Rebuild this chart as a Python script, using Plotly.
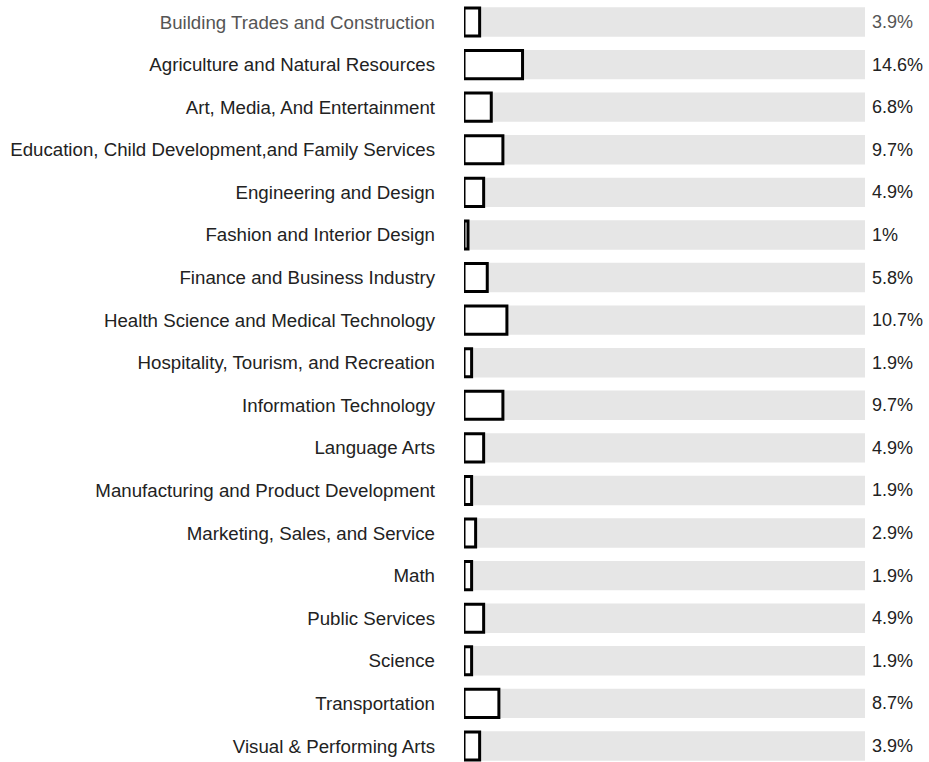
import plotly.graph_objects as go

categories = [
    "Building Trades and Construction",
    "Agriculture and Natural Resources",
    "Art, Media, And Entertainment",
    "Education, Child Development,and Family Services",
    "Engineering and Design",
    "Fashion and Interior Design",
    "Finance and Business Industry",
    "Health Science and Medical Technology",
    "Hospitality, Tourism, and Recreation",
    "Information Technology",
    "Language Arts",
    "Manufacturing and Product Development",
    "Marketing, Sales, and Service",
    "Math",
    "Public Services",
    "Science",
    "Transportation",
    "Visual & Performing Arts",
]
values = [3.9, 14.6, 6.8, 9.7, 4.9, 1, 5.8, 10.7, 1.9, 9.7, 4.9, 1.9, 2.9, 1.9, 4.9, 1.9, 8.7, 3.9]
value_labels = ["3.9%", "14.6%", "6.8%", "9.7%", "4.9%", "1%", "5.8%", "10.7%", "1.9%",
                "9.7%", "4.9%", "1.9%", "2.9%", "1.9%", "4.9%", "1.9%", "8.7%", "3.9%"]
track_max = [100] * len(categories)

FONT = "Liberation Sans, Arial, sans-serif"
FS = 18.7
FS_VAL = 18.0
highlight = 0
text_colors = ["#555555" if i == highlight else "#222222" for i in range(len(categories))]
tick_text = [
    f"<span style='color:{c}'>{t}</span>" for t, c in zip(categories, text_colors)
]

fig = go.Figure()
fig.add_trace(go.Bar(
    y=categories, x=track_max, orientation="h",
    marker=dict(color="#e6e6e6", line=dict(width=0)),
    width=0.69, hoverinfo="skip", showlegend=False,
))
fig.add_trace(go.Bar(
    y=categories, x=values, orientation="h",
    marker=dict(color="white", line=dict(color="black", width=3)),
    width=0.66, showlegend=False,
))

for cat, lab, col, tm in zip(categories, value_labels, text_colors, track_max):
    fig.add_annotation(
        x=tm, y=cat, xref="x", yref="y", text=lab, showarrow=False,
        xanchor="left", yanchor="middle", xshift=5,
        font=dict(family=FONT, size=FS_VAL, color=col),
    )

n = len(categories)
fig.update_layout(
    width=929, height=762,
    margin=dict(l=463.5, r=64, t=0, b=0),
    barmode="overlay",
    plot_bgcolor="white", paper_bgcolor="white",
    font=dict(family=FONT, size=FS, color="#222222"),
    xaxis=dict(range=[0, 100], visible=False, fixedrange=True),
    yaxis=dict(
        type="category", categoryorder="array", categoryarray=categories,
        range=[n - 1 + 0.376, -0.5166],
        tickmode="array", tickvals=categories, ticktext=tick_text,
        showgrid=False, zeroline=False, showline=False,
        ticks="", ticklabelstandoff=28,
        tickfont=dict(size=FS),
    ),
)

fig.write_html("out.html")
